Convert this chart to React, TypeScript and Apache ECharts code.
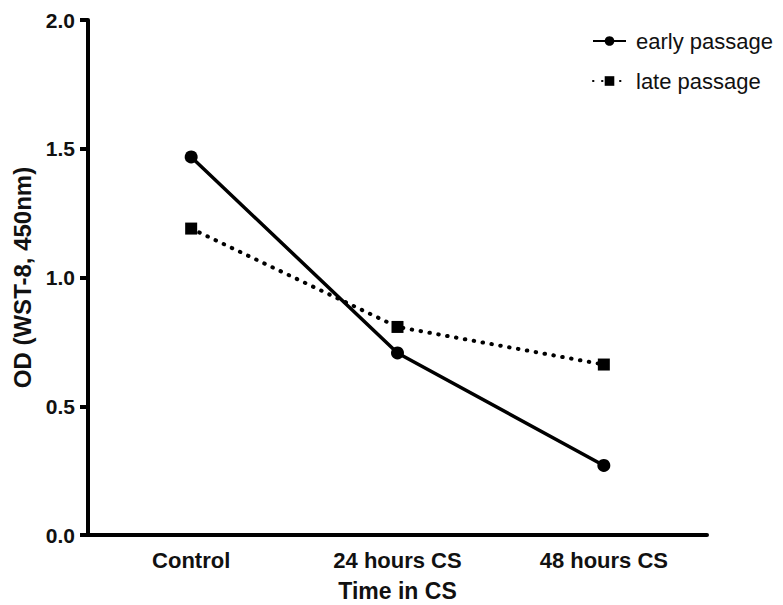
import React, { useEffect, useRef } from "react";
import * as echarts from "echarts";

const categories = ["Control", "24 hours CS", "48 hours CS"];
const earlyPassage = [1.468, 0.707, 0.27];
const latePassage = [1.19, 0.808, 0.662];
const yTicks = { min: 0, max: 2, interval: 0.5 };

export default function App() {
  const ref = useRef<HTMLDivElement>(null);
  useEffect(() => {
    const chart = echarts.init(ref.current!, null, { renderer: "svg" });
    const font = "Liberation Sans, Arial, Helvetica, sans-serif";
    chart.setOption({
      animation: false,
      backgroundColor: "#ffffff",
      grid: { left: 88, top: 20, right: 76, bottom: 70, containLabel: false, outerBoundsMode: "none" },
      legend: {
        orient: "vertical",
        left: 587,
        top: 25,
        itemWidth: 33,
        itemHeight: 12,
        itemGap: 18,
        textStyle: { fontFamily: font, fontSize: 22, color: "#111", padding: [0, 0, 0, 5] },
        data: ["early passage", "late passage"],
      },
      xAxis: {
        type: "category",
        data: categories,
        boundaryGap: true,
        name: "Time in CS",
        nameLocation: "middle",
        nameGap: 44,
        nameTextStyle: { fontFamily: font, fontSize: 23, fontWeight: "bold", color: "#111" },
        axisLine: { lineStyle: { color: "#000", width: 4 } },
        axisTick: { alignWithLabel: true, length: 9, lineStyle: { color: "#000", width: 4 } },
        axisLabel: { fontFamily: font, fontSize: 22, fontWeight: "bold", color: "#111", margin: 14 },
        splitLine: { show: false },
      },
      yAxis: {
        type: "value",
        min: yTicks.min,
        max: yTicks.max,
        interval: yTicks.interval,
        name: "OD (WST-8, 450nm)",
        nameLocation: "middle",
        nameGap: 48,
        nameRotate: 90,
        nameTextStyle: { fontFamily: font, fontSize: 24, fontWeight: "bold", color: "#111" },
        axisLine: { show: true, lineStyle: { color: "#000", width: 4 } },
        axisTick: { show: true, length: 8, lineStyle: { color: "#000", width: 4 } },
        axisLabel: {
          fontFamily: font,
          fontSize: 21,
          fontWeight: "bold",
          color: "#111",
          margin: 13,
          formatter: (v: number) => v.toFixed(1),
        },
        splitLine: { show: false },
      },
      series: [
        {
          name: "early passage",
          type: "line",
          data: earlyPassage,
          symbol: "circle",
          symbolSize: 13,
          itemStyle: { color: "#000" },
          lineStyle: { color: "#000", width: 3.5 },
        },
        {
          name: "late passage",
          type: "line",
          data: latePassage,
          symbol: "rect",
          symbolSize: 12,
          itemStyle: { color: "#000" },
          lineStyle: { color: "#000", width: 4, type: [0.5, 8.5], cap: "round" },
        },
      ],
    });
    return () => chart.dispose();
  }, []);
  return <div ref={ref} style={{ width: 783, height: 605, position: "absolute", left: 0, top: 0 }} />;
}
